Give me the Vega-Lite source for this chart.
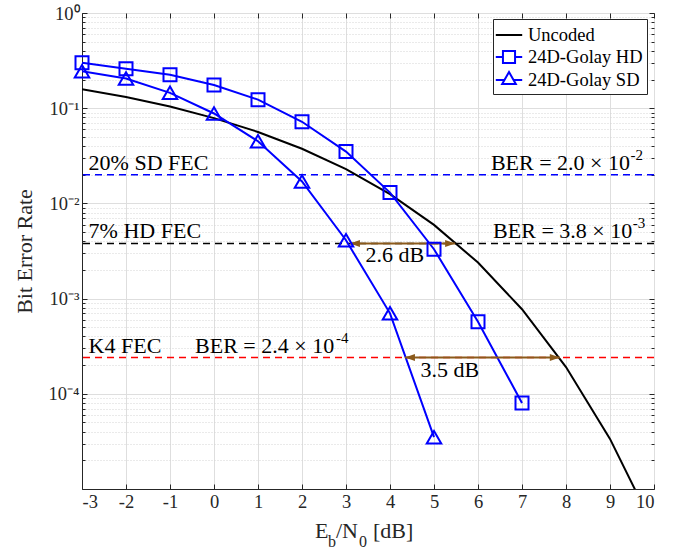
{
  "$schema": "https://vega.github.io/schema/vega-lite/v6.json",
  "width": 572,
  "height": 476,
  "autosize": {"type": "none"},
  "padding": {"left": 82, "top": 13, "right": 30, "bottom": 65},
  "background": "white",
  "config": {
    "view": {"stroke": "#262626", "strokeWidth": 1},
    "font": "Liberation Serif",
    "axis": {
      "labelFont": "Liberation Serif",
      "labelFontSize": 18.5,
      "labelColor": "#262626",
      "domainColor": "#262626",
      "tickColor": "#262626",
      "titleFont": "Liberation Serif",
      "titleFontWeight": "normal",
      "titleColor": "#262626",
      "titleFontSize": 22
    },
    "text": {"font": "Liberation Serif"}
  },
  "datasets": {
    "curves": [
      {"snr": -3, "ber": 0.158, "series": "Uncoded"},
      {"snr": -2, "ber": 0.131, "series": "Uncoded"},
      {"snr": -1, "ber": 0.104, "series": "Uncoded"},
      {"snr": 0, "ber": 0.0786, "series": "Uncoded"},
      {"snr": 1, "ber": 0.0563, "series": "Uncoded"},
      {"snr": 2, "ber": 0.0375, "series": "Uncoded"},
      {"snr": 3, "ber": 0.0229, "series": "Uncoded"},
      {"snr": 4, "ber": 0.0125, "series": "Uncoded"},
      {"snr": 5, "ber": 0.00595, "series": "Uncoded"},
      {"snr": 6, "ber": 0.00239, "series": "Uncoded"},
      {"snr": 7, "ber": 0.000773, "series": "Uncoded"},
      {"snr": 8, "ber": 0.000191, "series": "Uncoded"},
      {"snr": 9, "ber": 0.0000336, "series": "Uncoded"},
      {"snr": 10, "ber": 0.0000039, "series": "Uncoded"},
      {"snr": -3, "ber": 0.30, "series": "24D-Golay HD"},
      {"snr": -2, "ber": 0.26, "series": "24D-Golay HD"},
      {"snr": -1, "ber": 0.225, "series": "24D-Golay HD"},
      {"snr": 0, "ber": 0.175, "series": "24D-Golay HD"},
      {"snr": 1, "ber": 0.123, "series": "24D-Golay HD"},
      {"snr": 2, "ber": 0.072, "series": "24D-Golay HD"},
      {"snr": 3, "ber": 0.035, "series": "24D-Golay HD"},
      {"snr": 4, "ber": 0.013, "series": "24D-Golay HD"},
      {"snr": 5, "ber": 0.0033, "series": "24D-Golay HD"},
      {"snr": 6, "ber": 0.00057, "series": "24D-Golay HD"},
      {"snr": 7, "ber": 0.00008, "series": "24D-Golay HD"},
      {"snr": -3, "ber": 0.245, "series": "24D-Golay SD"},
      {"snr": -2, "ber": 0.205, "series": "24D-Golay SD"},
      {"snr": -1, "ber": 0.145, "series": "24D-Golay SD"},
      {"snr": 0, "ber": 0.088, "series": "24D-Golay SD"},
      {"snr": 1, "ber": 0.045, "series": "24D-Golay SD"},
      {"snr": 2, "ber": 0.017, "series": "24D-Golay SD"},
      {"snr": 3, "ber": 0.0041, "series": "24D-Golay SD"},
      {"snr": 4, "ber": 0.0007, "series": "24D-Golay SD"},
      {"snr": 5, "ber": 0.000035, "series": "24D-Golay SD"}
    ],
    "thresholds": [
      {"ber": 0.02, "level": "20% SD FEC"},
      {"ber": 0.0038, "level": "7% HD FEC"},
      {"ber": 0.00024, "level": "K4 FEC"}
    ],
    "gaps": [
      {"ber": 0.0038, "from": 3.09, "to": 5.48, "label": "2.6 dB", "labelAt": 4.11},
      {"ber": 0.00024, "from": 4.34, "to": 7.86, "label": "3.5 dB", "labelAt": 5.36}
    ],
    "notesLeft": [
      {"snr": -2.85, "ber": 0.02, "text": "20% SD FEC"},
      {"snr": -2.85, "ber": 0.0038, "text": "7% HD FEC"},
      {"snr": -2.85, "ber": 0.00024, "text": "K4 FEC"}
    ],
    "noteK4": [
      {"snr": -0.43, "ber": 0.00024, "text": "BER = 2.4 × 10", "exp": "-4"}
    ],
    "notesRight": [
      {"snr": 9.75, "ber": 0.02, "text": "BER = 2.0 × 10", "exp": "-2"},
      {"snr": 9.8, "ber": 0.0038, "text": "BER = 3.8 × 10", "exp": "-3"}
    ]
  },
  "resolve": {"axis": {"x": "independent", "y": "independent"}},
  "layer": [
    {
      "data": {"name": "thresholds"},
      "mark": {"type": "rule", "strokeDash": [7, 5], "strokeWidth": 1.5},
      "encoding": {
        "y": {
          "field": "ber", "type": "quantitative",
          "scale": {"type": "log", "domain": [0.00001, 1]},
          "axis": {
            "orient": "right", "labels": false, "grid": false, "title": null, "domain": false,
            "values": [1, 0.1, 0.01, 0.001, 0.0001, 0.9, 0.8, 0.7, 0.6, 0.5, 0.4, 0.3, 0.2, 0.09, 0.08, 0.07, 0.06, 0.05, 0.04, 0.03, 0.02, 0.009, 0.008, 0.007, 0.006, 0.005, 0.004, 0.003, 0.002, 0.0009, 0.0008, 0.0007, 0.0006, 0.0005, 0.0004, 0.0003, 0.0002, 0.00009, 0.00008, 0.00007, 0.00006, 0.00005, 0.00004, 0.00003, 0.00002],
            "tickSize": {"condition": {"test": "abs(log(datum.value)/LN10 - round(log(datum.value)/LN10)) < 0.001", "value": -5}, "value": -3}
          }
        },
        "stroke": {
          "field": "level", "type": "nominal",
          "scale": {"domain": ["20% SD FEC", "7% HD FEC", "K4 FEC"], "range": ["#0000ff", "#000000", "#ff0000"]},
          "legend": null
        }
      }
    },
    {
      "data": {"name": "curves"},
      "mark": {"type": "line", "clip": true, "strokeWidth": 2},
      "encoding": {
        "x": {
          "field": "snr", "type": "quantitative",
          "scale": {"domain": [-3, 10], "nice": false, "zero": false},
          "axis": {
            "values": [-3, -2, -1, 0, 1, 2, 3, 4, 5, 6, 7, 8, 9, 10],
            "labelExpr": "datum.value < 0 ? '-' + abs(datum.value) : '' + datum.value",
            "title": null, "grid": true, "gridColor": "#dedede", "tickSize": -5, "labelPadding": 8
          }
        },
        "y": {
          "field": "ber", "type": "quantitative",
          "scale": {"type": "log", "domain": [0.00001, 1]},
          "axis": {
            "title": "Bit Error Rate", "titlePadding": 12,
            "values": [1, 0.1, 0.01, 0.001, 0.0001, 0.9, 0.8, 0.7, 0.6, 0.5, 0.4, 0.3, 0.2, 0.09, 0.08, 0.07, 0.06, 0.05, 0.04, 0.03, 0.02, 0.009, 0.008, 0.007, 0.006, 0.005, 0.004, 0.003, 0.002, 0.0009, 0.0008, 0.0007, 0.0006, 0.0005, 0.0004, 0.0003, 0.0002, 0.00009, 0.00008, 0.00007, 0.00006, 0.00005, 0.00004, 0.00003, 0.00002],
            "labelExpr": "abs(log(datum.value)/LN10 - round(log(datum.value)/LN10)) < 0.001 ? '10' + ['⁰','⁻¹','⁻²','⁻³','⁻⁴','⁻⁵'][-round(log(datum.value)/LN10)] : ''",
            "grid": true,
            "gridColor": {"condition": {"test": "abs(log(datum.value)/LN10 - round(log(datum.value)/LN10)) < 0.001", "value": "#dedede"}, "value": "#d4d4d4"},
            "gridDash": {"condition": {"test": "abs(log(datum.value)/LN10 - round(log(datum.value)/LN10)) < 0.001", "value": []}, "value": [1, 2]},
            "tickSize": {"condition": {"test": "abs(log(datum.value)/LN10 - round(log(datum.value)/LN10)) < 0.001", "value": -5}, "value": -3},
            "labelPadding": 8
          }
        },
        "color": {
          "field": "series", "type": "nominal",
          "scale": {"domain": ["Uncoded", "24D-Golay HD", "24D-Golay SD"], "range": ["#000000", "#0000ff", "#0000ff"]},
          "legend": {
            "title": null, "orient": "none", "legendX": 411, "legendY": 6,
            "strokeColor": "#262626", "fillColor": "white", "padding": 4, "cornerRadius": 0,
            "labelFont": "Liberation Serif", "labelFontSize": 18.5, "labelColor": "#000000",
            "symbolSize": 484, "symbolStrokeWidth": 2, "rowPadding": 0, "labelOffset": 7,
            "symbolType": "stroke",
            "encode": {
              "symbols": {
                "update": {
                  "shape": {"signal": "datum.value === 'Uncoded' ? 'M-1.2,0H1.2' : datum.value === '24D-Golay HD' ? 'M-1.2,0H-0.55M0.55,0H1.2M-0.55,-0.55H0.55V0.55H-0.55Z' : 'M-1.2,0H-0.37M0.37,0H1.2M0,-0.72L0.62,0.36H-0.62Z'"},
                  "fill": {"value": "transparent"},
                  "strokeWidth": {"value": 2}
                }
              }
            }
          }
        }
      }
    },
    {
      "data": {"name": "gaps"},
      "mark": {"type": "rule", "color": "#8b5a1b", "strokeWidth": 2},
      "encoding": {
        "x": {
          "field": "from", "type": "quantitative",
          "axis": {"orient": "top", "labels": false, "grid": false, "title": null, "domain": false, "tickSize": -5, "values": [-3, -2, -1, 0, 1, 2, 3, 4, 5, 6, 7, 8, 9, 10]}
        },
        "x2": {"field": "to"},
        "y": {"field": "ber", "type": "quantitative", "axis": null}
      }
    },
    {
      "data": {"name": "gaps"},
      "mark": {"type": "point", "shape": "M0,0L1,-0.35L1,0.35Z", "size": 400, "filled": true, "color": "#8b5a1b", "opacity": 1},
      "encoding": {
        "x": {"field": "from", "type": "quantitative", "axis": null},
        "y": {"field": "ber", "type": "quantitative", "axis": null}
      }
    },
    {
      "data": {"name": "gaps"},
      "mark": {"type": "point", "shape": "M0,0L-1,-0.35L-1,0.35Z", "size": 400, "filled": true, "color": "#8b5a1b", "opacity": 1},
      "encoding": {
        "x": {"field": "to", "type": "quantitative", "axis": null},
        "y": {"field": "ber", "type": "quantitative", "axis": null}
      }
    },
    {
      "data": {"name": "curves"},
      "transform": [{"filter": "datum.series !== 'Uncoded'"}],
      "mark": {"type": "point", "filled": false, "strokeWidth": 2, "opacity": 1},
      "encoding": {
        "x": {"field": "snr", "type": "quantitative", "axis": null},
        "y": {"field": "ber", "type": "quantitative", "axis": null},
        "color": {"field": "series", "type": "nominal", "legend": null},
        "shape": {"field": "series", "type": "nominal", "scale": {"domain": ["24D-Golay HD", "24D-Golay SD"], "range": ["square", "triangle-up"]}, "legend": null},
        "size": {"field": "series", "type": "nominal", "scale": {"domain": ["24D-Golay HD", "24D-Golay SD"], "range": [169, 210]}, "legend": null}
      }
    },
    {
      "data": {"name": "gaps"},
      "mark": {"type": "text", "fontSize": 22, "color": "#000000", "align": "center", "baseline": "alphabetic", "dy": 19},
      "encoding": {
        "x": {"field": "labelAt", "type": "quantitative", "axis": null},
        "y": {"field": "ber", "type": "quantitative", "axis": null},
        "text": {"field": "label"}
      }
    },
    {
      "data": {"name": "notesLeft"},
      "mark": {"type": "text", "fontSize": 22, "color": "#000000", "align": "left", "baseline": "alphabetic", "dy": -5},
      "encoding": {
        "x": {"field": "snr", "type": "quantitative", "axis": null},
        "y": {"field": "ber", "type": "quantitative", "axis": null},
        "text": {"field": "text"}
      }
    },
    {
      "data": {"name": "noteK4"},
      "mark": {"type": "text", "fontSize": 22, "color": "#000000", "align": "left", "baseline": "alphabetic", "dy": -5},
      "encoding": {
        "x": {"field": "snr", "type": "quantitative", "axis": null},
        "y": {"field": "ber", "type": "quantitative", "axis": null},
        "text": {"field": "text"}
      }
    },
    {
      "data": {"name": "noteK4"},
      "mark": {"type": "text", "fontSize": 15, "color": "#000000", "align": "left", "baseline": "alphabetic", "dx": 141, "dy": -15},
      "encoding": {
        "x": {"field": "snr", "type": "quantitative", "axis": null},
        "y": {"field": "ber", "type": "quantitative", "axis": null},
        "text": {"field": "exp"}
      }
    },
    {
      "data": {"name": "notesRight"},
      "mark": {"type": "text", "fontSize": 22, "color": "#000000", "align": "right", "baseline": "alphabetic", "dx": -13, "dy": -5},
      "encoding": {
        "x": {"field": "snr", "type": "quantitative", "axis": null},
        "y": {"field": "ber", "type": "quantitative", "axis": null},
        "text": {"field": "text"}
      }
    },
    {
      "data": {"name": "notesRight"},
      "mark": {"type": "text", "fontSize": 15, "color": "#000000", "align": "right", "baseline": "alphabetic", "dx": 0, "dy": -15},
      "encoding": {
        "x": {"field": "snr", "type": "quantitative", "axis": null},
        "y": {"field": "ber", "type": "quantitative", "axis": null},
        "text": {"field": "exp"}
      }
    },
    {
      "data": {"values": [{}]},
      "mark": {"type": "text", "text": "E", "fontSize": 22, "color": "#262626", "align": "left", "baseline": "alphabetic", "dx": -53, "dy": 49},
      "encoding": {"x": {"datum": 3.5, "type": "quantitative", "axis": null}, "y": {"datum": 0.00001, "type": "quantitative", "axis": null}}
    },
    {
      "data": {"values": [{}]},
      "mark": {"type": "text", "text": "b", "fontSize": 16, "color": "#262626", "align": "left", "baseline": "alphabetic", "dx": -40, "dy": 58},
      "encoding": {"x": {"datum": 3.5, "type": "quantitative", "axis": null}, "y": {"datum": 0.00001, "type": "quantitative", "axis": null}}
    },
    {
      "data": {"values": [{}]},
      "mark": {"type": "text", "text": "/N", "fontSize": 22, "color": "#262626", "align": "left", "baseline": "alphabetic", "dx": -32, "dy": 49},
      "encoding": {"x": {"datum": 3.5, "type": "quantitative", "axis": null}, "y": {"datum": 0.00001, "type": "quantitative", "axis": null}}
    },
    {
      "data": {"values": [{}]},
      "mark": {"type": "text", "text": "0", "fontSize": 16, "color": "#262626", "align": "left", "baseline": "alphabetic", "dx": -9, "dy": 58},
      "encoding": {"x": {"datum": 3.5, "type": "quantitative", "axis": null}, "y": {"datum": 0.00001, "type": "quantitative", "axis": null}}
    },
    {
      "data": {"values": [{}]},
      "mark": {"type": "text", "text": "[dB]", "fontSize": 22, "color": "#262626", "align": "left", "baseline": "alphabetic", "dx": 5, "dy": 49},
      "encoding": {"x": {"datum": 3.5, "type": "quantitative", "axis": null}, "y": {"datum": 0.00001, "type": "quantitative", "axis": null}}
    }
  ]
}
